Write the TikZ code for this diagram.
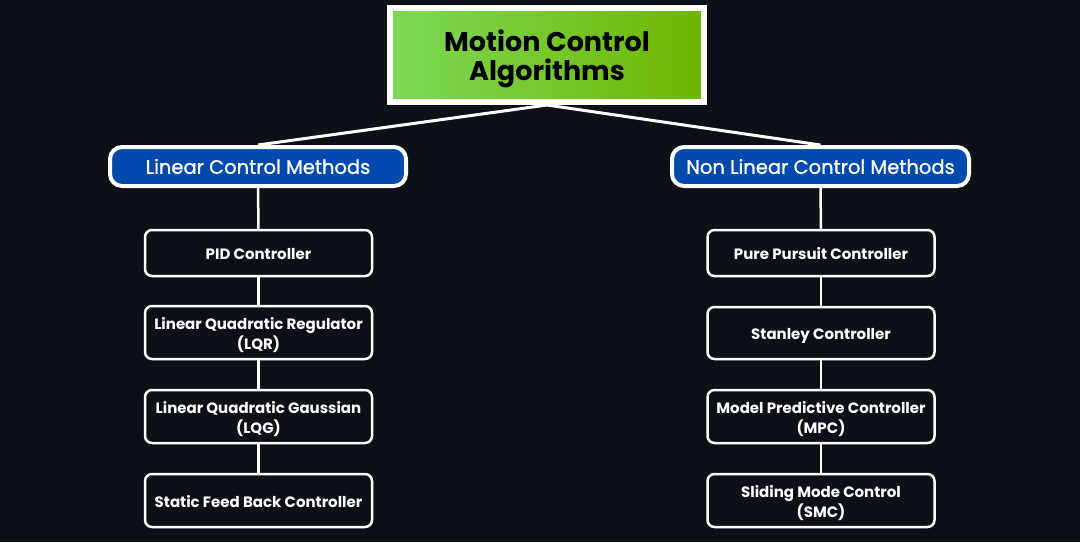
\documentclass[tikz,border=0pt]{standalone}
\usepackage{fontspec}
\setmainfont{Poppins}
\newfontfamily\popmed{Poppins}[FakeBold=1.2]
\begin{document}
\begin{tikzpicture}[x=1pt,y=-1pt,
  topbox/.style={draw=white,line width=6pt,left color=gl,right color=gr,minimum width=314pt,minimum height=94pt,inner sep=0pt,align=center,font=\fontsize{27}{29.5}\selectfont\bfseries,text=black,text depth=0pt},
  catbox/.style={draw=white,line width=4pt,fill=bluec,rounded corners=12pt,minimum height=39pt,inner sep=0pt,align=center,font=\fontsize{19.5}{22}\popmed,text=white},
  itembox/.style={draw=white,line width=2.5pt,fill=bgc,rounded corners=7pt,minimum width=227pt,inner sep=0pt,align=center,font=\fontsize{15}{20}\selectfont\bfseries,text=white},
  oneline/.style={text height=13.5pt,text depth=0pt},
  twoline/.style={text height=33pt,text depth=0pt},
  conn/.style={draw=white,line width=3pt},
  vconn/.style={draw=white,line width=2.5pt}]
\definecolor{bgc}{HTML}{0E1018}
\definecolor{gl}{HTML}{7ED957}
\definecolor{gr}{HTML}{6FB600}
\definecolor{bluec}{HTML}{004AAD}
\fill[bgc] (0,0) rectangle (1080,542);
\useasboundingbox (0,0) rectangle (1080,542);
\node[topbox] (top) at (547,55) {Motion Control\\Algorithms};
\node[catbox,minimum width=296pt] (lin) at (258,166.5) {Linear Control Methods};
\node[catbox,minimum width=297pt] (nlin) at (820.5,166.5) {Non Linear Control Methods};
\node[itembox,oneline,minimum height=46pt] (pid) at (258.5,253) {PID Controller};
\node[itembox,twoline,minimum height=53pt] (lqr) at (258.5,332.5) {Linear Quadratic Regulator\\(LQR)};
\node[itembox,twoline,minimum height=53pt] (lqg) at (258.5,416.5) {Linear Quadratic Gaussian\\(LQG)};
\node[itembox,oneline,minimum height=53pt] (sfb) at (258.5,500.5) {Static Feed Back Controller};
\node[itembox,oneline,minimum height=46pt] (pp) at (821,253) {Pure Pursuit Controller};
\node[itembox,oneline,minimum height=52pt] (stan) at (821,333) {Stanley Controller};
\node[itembox,twoline,minimum height=53pt] (mpc) at (821,416.5) {Model Predictive Controller\\(MPC)};
\node[itembox,twoline,minimum height=53pt] (smc) at (821,500.5) {Sliding Mode Control\\(SMC)};
\draw[conn] (top.south) -- (lin.north);
\draw[conn] (top.south) -- (nlin.north);
\draw[vconn] (lin.south) -- (pid.north);
\draw[vconn] (pid.south) -- (lqr.north);
\draw[vconn] (lqr.south) -- (lqg.north);
\draw[vconn] (lqg.south) -- (sfb.north);
\draw[vconn] (nlin.south) -- (pp.north);
\draw[vconn] (pp.south) -- (stan.north);
\draw[vconn] (stan.south) -- (mpc.north);
\draw[vconn] (mpc.south) -- (smc.north);
\end{tikzpicture}
\end{document}
